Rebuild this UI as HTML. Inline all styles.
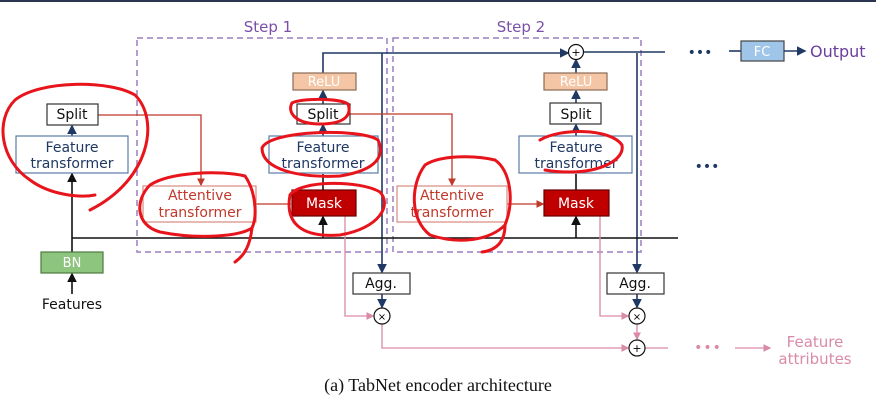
<!DOCTYPE html>
<html><head><meta charset="utf-8"><style>
html,body{margin:0;padding:0;background:#fff;}
svg{display:block;}
text{font-family:"DejaVu Sans","Liberation Sans",sans-serif;}
</style></head><body>
<svg width="876" height="416" viewBox="0 0 876 416" xmlns="http://www.w3.org/2000/svg">
<defs>
<marker id="ab" markerWidth="6" markerHeight="6" refX="5" refY="3" orient="auto"><path d="M0,0 L6,3 L0,6z" fill="#1f3864"/></marker>
<marker id="ak" markerWidth="6" markerHeight="6" refX="5" refY="3" orient="auto"><path d="M0,0 L6,3 L0,6z" fill="#111"/></marker>
<marker id="ar" markerWidth="6" markerHeight="6" refX="5" refY="3" orient="auto"><path d="M0,0 L6,3 L0,6z" fill="#c0392b"/></marker>
<marker id="ap" markerWidth="6" markerHeight="6" refX="5" refY="3" orient="auto"><path d="M0,0 L6,3 L0,6z" fill="#d98aa8"/></marker>
</defs>
<rect x="0" y="0" width="876" height="2" fill="#2b3550"/>
<text x="268" y="32" font-size="15" fill="#7a4fa8" text-anchor="middle">Step 1</text>
<text x="521" y="32" font-size="15" fill="#7a4fa8" text-anchor="middle">Step 2</text>
<rect x="137" y="38" width="250" height="214" fill="none" stroke="#9b7fc1" stroke-width="1.5" stroke-dasharray="6,4"/>
<rect x="393" y="38" width="248" height="214" fill="none" stroke="#9b7fc1" stroke-width="1.5" stroke-dasharray="6,4"/>
<g stroke="#1f3864" stroke-width="1.6" fill="none">
<path d="M323 73 V53 H568" marker-end="url(#ab)"/>
<path d="M584 52 H665"/>
<path d="M382 53 V272" marker-end="url(#ab)"/>
<path d="M637 53 V272" marker-end="url(#ab)"/>
<path d="M382 294 V307" marker-end="url(#ab)"/>
<path d="M637 294 V307" marker-end="url(#ab)"/>
<path d="M576 73 V60" marker-end="url(#ab)"/>
<path d="M323 104 V91" marker-end="url(#ab)"/>
<path d="M576 103 V91" marker-end="url(#ab)"/>
<path d="M323 136 V125" marker-end="url(#ab)"/>
<path d="M576 136 V125" marker-end="url(#ab)"/>
<path d="M72 136 V126" marker-end="url(#ab)"/>
</g>
<circle cx="576" cy="52" r="7.5" fill="#fff" stroke="#111" stroke-width="1.2"/>
<text x="576" y="56" font-size="11" text-anchor="middle">+</text>
<g stroke="#111" stroke-width="1.6" fill="none">
<path d="M72 238 H678"/>
<path d="M72 252 V174" marker-end="url(#ak)"/>
<path d="M323 238 V217" marker-end="url(#ak)"/>
<path d="M576 238 V217" marker-end="url(#ak)"/>
<path d="M323 190 V174"/>
<path d="M576 190 V174"/>
<path d="M72 294 V274" marker-end="url(#ak)"/>
</g>
<g stroke="#c0392b" stroke-width="1.3" fill="none">
<path d="M98 115 H201 V185" marker-end="url(#ar)"/>
<path d="M350 114 H452 V185" marker-end="url(#ar)"/>
<path d="M256 204 H291"/>
<path d="M507 204 H543" marker-end="url(#ar)"/>
</g>
<g stroke="#d98aa8" stroke-width="1.3" fill="none">
<path d="M345 216 V316 H373" marker-end="url(#ap)"/>
<path d="M600 216 V316 H628" marker-end="url(#ap)"/>
<path d="M382 324 V348 H628" marker-end="url(#ap)"/>
<path d="M637 324 V339" marker-end="url(#ap)"/>
<path d="M645 348 H668"/>
<path d="M735 348 H770" marker-end="url(#ap)"/>
</g>
<text x="708" y="352" font-size="14" fill="#d98aa8" text-anchor="middle" letter-spacing="1">•••</text>
<text x="815" y="347" font-size="15" fill="#d98aa8" text-anchor="middle">Feature</text>
<text x="815" y="364" font-size="15" fill="#d98aa8" text-anchor="middle">attributes</text>
<g fill="#fff" stroke="#111" stroke-width="1.2">
<circle cx="382" cy="316" r="8"/><circle cx="637" cy="316" r="8"/><circle cx="637" cy="348" r="8"/>
</g>
<text x="382" y="320" font-size="10" text-anchor="middle">×</text>
<text x="637" y="320" font-size="10" text-anchor="middle">×</text>
<text x="637" y="352" font-size="11" text-anchor="middle">+</text>
<rect x="293" y="73" width="63" height="17" fill="#f4c6a5" stroke="#8b6b55" stroke-width="1.2"/>
<text x="324" y="86" font-size="13" fill="#fff" text-anchor="middle">ReLU</text>
<rect x="544" y="73" width="63" height="17" fill="#f4c6a5" stroke="#8b6b55" stroke-width="1.2"/>
<text x="576" y="86" font-size="13" fill="#fff" text-anchor="middle">ReLU</text>
<g fill="#fff" stroke="#333" stroke-width="1.2">
<rect x="47" y="104" width="51" height="21"/><rect x="297" y="104" width="53" height="20"/><rect x="550" y="103" width="51" height="21"/>
</g>
<text x="72" y="119" font-size="14" text-anchor="middle" fill="#111">Split</text>
<text x="323" y="119" font-size="14" text-anchor="middle" fill="#111">Split</text>
<text x="576" y="119" font-size="14" text-anchor="middle" fill="#111">Split</text>
<g fill="#fff" stroke="#5b7ba8" stroke-width="1.2">
<rect x="16" y="136" width="112" height="37"/><rect x="269" y="136" width="109" height="37"/><rect x="519" y="136" width="113" height="37"/>
</g>
<g font-size="14" fill="#1f3864" text-anchor="middle">
<text x="72" y="152">Feature</text><text x="72" y="168">transformer</text>
<text x="323" y="152">Feature</text><text x="323" y="168">transformer</text>
<text x="576" y="152">Feature</text><text x="576" y="168">transformer</text>
</g>
<g fill="#fff" stroke="#d88a80" stroke-width="1.2">
<rect x="143" y="186" width="113" height="36"/><rect x="397" y="186" width="110" height="36"/>
</g>
<g font-size="14" fill="#c0392b" text-anchor="middle">
<text x="200" y="200">Attentive</text><text x="200" y="217">transformer</text>
<text x="452" y="200">Attentive</text><text x="452" y="217">transformer</text>
</g>
<rect x="292" y="190" width="64" height="26" fill="#c00000" stroke="#600" stroke-width="1.2"/>
<text x="324" y="208" font-size="14" fill="#fff" text-anchor="middle">Mask</text>
<rect x="544" y="190" width="65" height="26" fill="#c00000" stroke="#600" stroke-width="1.2"/>
<text x="576" y="208" font-size="14" fill="#fff" text-anchor="middle">Mask</text>
<rect x="41" y="252" width="62" height="21" fill="#8dc47e" stroke="#4d7a40" stroke-width="1.2"/>
<text x="72" y="267" font-size="13" fill="#fff" text-anchor="middle">BN</text>
<text x="72" y="309" font-size="14" fill="#111" text-anchor="middle">Features</text>
<g fill="#fff" stroke="#333" stroke-width="1.2">
<rect x="353" y="273" width="57" height="21"/><rect x="607" y="273" width="57" height="21"/>
</g>
<text x="381" y="288" font-size="14" text-anchor="middle" fill="#111">Agg.</text>
<text x="635" y="288" font-size="14" text-anchor="middle" fill="#111">Agg.</text>
<text x="700" y="57" font-size="14" fill="#1f3864" text-anchor="middle">•••</text>
<text x="707" y="171" font-size="14" fill="#1f3864" text-anchor="middle">•••</text>
<path d="M729 51 H741" stroke="#1f3864" stroke-width="1.6"/>
<rect x="741" y="41" width="43" height="20" fill="#9fc5e8" stroke="#444" stroke-width="1.2"/>
<text x="762" y="56" font-size="13" fill="#fff" text-anchor="middle">FC</text>
<path d="M784 51 H805" stroke="#1f3864" stroke-width="1.6" marker-end="url(#ab)"/>
<text x="810" y="57" font-size="16" fill="#6b3fa0">Output</text>
<text x="438" y="391" font-size="18" fill="#111" text-anchor="middle" style="font-family:'Liberation Serif',serif">(a)  TabNet encoder architecture</text>
<g fill="none" stroke="#e8141b" stroke-width="3" stroke-linecap="round">
<path d="M90 210 C150 180 160 120 135 95 C110 80 40 80 15 100 C-5 120 0 160 30 180 C50 195 80 198 95 195"/>
<path d="M150 185 C135 200 135 225 160 232 C200 240 240 236 252 228 C258 215 255 190 245 176 C220 170 170 172 150 185 M252 228 C250 245 245 255 235 262"/>
<path d="M292 103 C300 98 340 98 348 104 C352 115 345 124 320 124 C295 124 287 112 292 103"/>
<path d="M262 148 C270 130 360 128 378 140 C385 155 378 170 340 176 C300 178 262 170 262 148"/>
<path d="M290 195 C300 180 360 180 380 192 C392 205 380 228 340 235 C300 238 285 222 290 195"/>
<path d="M425 165 C410 185 410 220 430 235 C460 245 490 240 505 225 C515 200 510 170 495 160 C475 155 440 155 425 165 M505 225 C505 240 498 250 482 252"/>
<path d="M540 140 C560 128 610 128 622 145 C625 160 600 172 570 172 C555 172 545 170 545 170"/>
</g>
</svg>
</body></html>
